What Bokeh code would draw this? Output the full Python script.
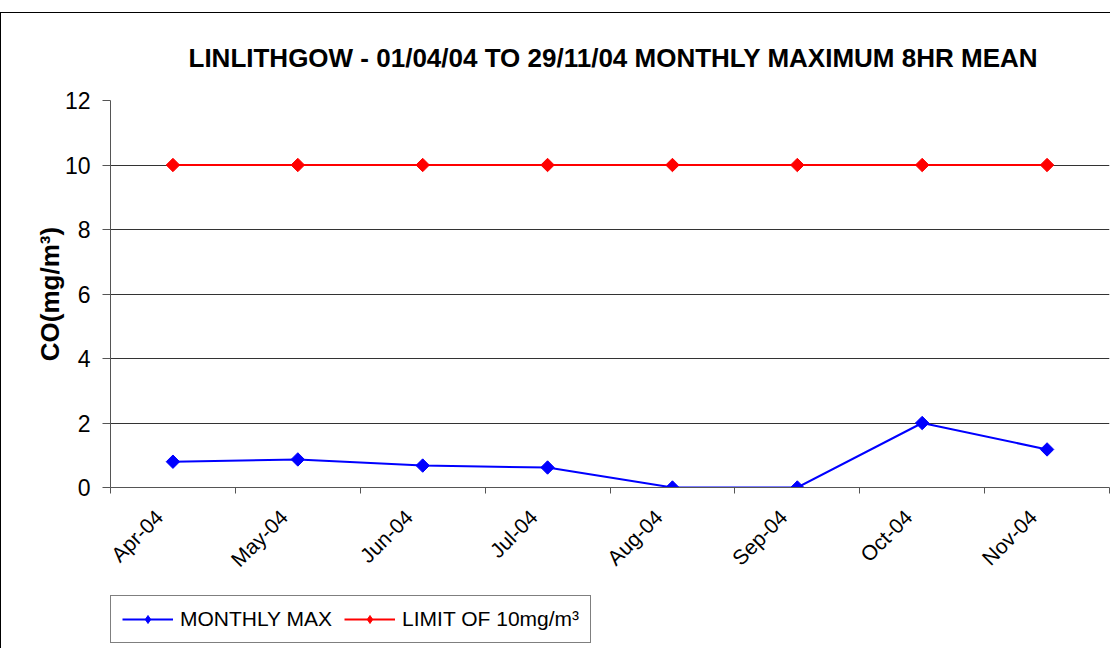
import math
from bokeh.plotting import figure
from bokeh.models import ColumnDataSource, FixedTicker, Legend, LegendItem, Spacer
from bokeh.layouts import column
from bokeh.embed import file_html
from bokeh.resources import INLINE

months = ["Apr-04", "May-04", "Jun-04", "Jul-04", "Aug-04", "Sep-04", "Oct-04", "Nov-04"]
monthly_max = [0.80, 0.87, 0.68, 0.62, 0.0, 0.0, 2.0, 1.18]
limit = [10, 10, 10, 10, 10, 10, 10, 10]
y_ticks = [0, 2, 4, 6, 8, 10, 12]
series_names = ["MONTHLY MAX", "LIMIT OF 10mg/m³"]
series_colors = ["blue", "red"]

xpos = [i + 0.5 for i in range(len(months))]
src = ColumnDataSource(dict(x=xpos, mx=monthly_max, lim=limit))

FONT = "Liberation Sans"
W = 1110

p = figure(width=W, height=576, output_backend="svg", toolbar_location=None,
           x_range=(0, len(months)), y_range=(0, 12),
           min_border_left=109, min_border_right=2, min_border_top=87, min_border_bottom=102)
p.styles = {"border-top": "1px solid black", "border-left": "1px solid black"}

p.title.text = "LINLITHGOW - 01/04/04 TO 29/11/04 MONTHLY MAXIMUM 8HR MEAN"
p.title.text_font = FONT
p.title.text_font_size = "26px"
p.title.text_font_style = "bold"
p.title.text_color = "black"
p.title.align = "left"
p.title.offset = 78
p.title.standoff = 55

p.outline_line_color = None
p.xgrid.visible = False
p.ygrid.ticker = FixedTicker(ticks=y_ticks)
p.ygrid.grid_line_color = "#333333"
p.ygrid.grid_line_width = 1

# rotated month labels sit slightly left of each category centre (as in the original)
label_pos = [x - 0.11 for x in xpos]
xa = p.xaxis[0]
xa.ticker = FixedTicker(ticks=label_pos, minor_ticks=list(range(len(months) + 1)))
xa.major_label_overrides = {x: m for x, m in zip(label_pos, months)}
xa.major_tick_out = 0
xa.major_tick_in = 0
xa.minor_tick_out = 6
xa.minor_tick_in = 0
xa.minor_tick_line_color = "#555555"
xa.axis_line_color = "#555555"
xa.major_label_orientation = math.pi / 4
xa.major_label_text_font = FONT
xa.major_label_text_font_size = "21px"
xa.major_label_text_color = "black"
xa.major_label_standoff = 20

ya = p.yaxis[0]
ya.ticker = FixedTicker(ticks=y_ticks)
ya.major_tick_out = 8
ya.major_tick_in = 0
ya.minor_tick_out = 0
ya.minor_tick_in = 0
ya.axis_line_color = "#555555"
ya.major_tick_line_color = "#555555"
ya.major_label_text_font = FONT
ya.major_label_text_font_size = "23px"
ya.major_label_text_color = "black"
ya.major_label_standoff = 12
ya.axis_label = "CO(mg/m³)"
ya.axis_label_text_font = FONT
ya.axis_label_text_font_size = "26px"
ya.axis_label_text_font_style = "bold"
ya.axis_label_text_color = "black"
ya.axis_label_standoff = -3

p.line("x", "mx", source=src, line_color=series_colors[0], line_width=2)
p.scatter("x", "mx", source=src, marker="square", angle=math.pi / 4, size=9.5,
          fill_color=series_colors[0], line_color=series_colors[0])
p.line("x", "lim", source=src, line_color=series_colors[1], line_width=2)
p.scatter("x", "lim", source=src, marker="square", angle=math.pi / 4, size=9.5,
          fill_color=series_colors[1], line_color=series_colors[1])

# legend strip underneath (the border box continues); its renderers use the same
# data but fall outside this strip's view, so only the legend is seen
q = figure(width=W, height=60, output_backend="svg", toolbar_location=None,
           x_axis_type=None, y_axis_type=None, x_range=(0, 1), y_range=(100, 101),
           min_border=0)
q.styles = {"border-left": "1px solid black"}
q.outline_line_color = None
q.xgrid.visible = False
q.ygrid.visible = False
items = []
for name, col, field in zip(series_names, series_colors, ["mx", "lim"]):
    ln = q.line("x", field, source=src, line_color=col, line_width=2)
    mk = q.scatter("x", field, source=src, marker="diamond", size=15,
                   fill_color=col, line_color=col)
    items.append(LegendItem(label=name, renderers=[ln, mk]))

legend = Legend(items=items, location=(0, 5), orientation="horizontal")
legend.border_line_color = "black"
legend.border_line_width = 1
legend.label_text_font = FONT
legend.label_text_font_size = "21px"
legend.label_text_color = "black"
legend.glyph_width = 51
legend.glyph_height = 20
legend.label_height = 20
legend.label_standoff = 7
legend.spacing = 12
legend.padding = 11
legend.margin = 0
legend.background_fill_alpha = 1
q.add_layout(legend, "center")

layout = column(Spacer(height=12, width=W), p, q)
open("out.html", "w").write(file_html(layout, INLINE))
